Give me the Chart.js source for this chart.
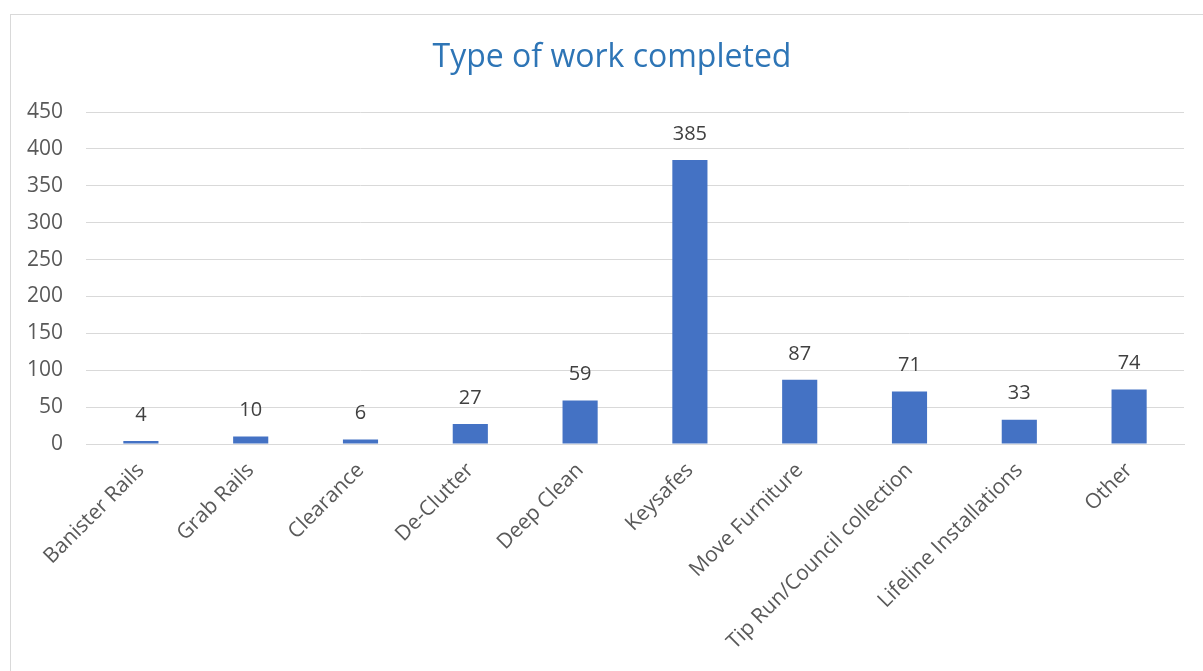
<!DOCTYPE html>
<html>
<head>
<meta charset="utf-8">
<script src="https://cdn.jsdelivr.net/npm/chart.js@4/dist/chart.umd.min.js"></script>
<style>
  html, body { margin: 0; padding: 0; background: #fff; }
  #wrap { width: 1203px; height: 671px; }
</style>
</head>
<body>
<div id="wrap"><canvas id="workChart"></canvas></div>
<script>
const categories = ['Banister Rails', 'Grab Rails', 'Clearance', 'De-Clutter', 'Deep Clean',
    'Keysafes', 'Move Furniture', 'Tip Run/Council collection', 'Lifeline Installations', 'Other'];
const jobCounts = [4, 10, 6, 27, 59, 385, 87, 71, 33, 74];
const yTicks = [0, 50, 100, 150, 200, 250, 300, 350, 400, 450];
const chartTitle = 'Type of work completed';

const fontFamily = "'Open Sans', sans-serif";

// outer frame and title, placed like the spreadsheet chart box
const frame = {
    id: 'frame',
    beforeDraw(chart) {
        const ctx = chart.ctx;
        ctx.save();
        ctx.fillStyle = '#fff';
        ctx.fillRect(0, 0, chart.width, chart.height);
        ctx.strokeStyle = '#d9d9d9';
        ctx.lineWidth = 1;
        ctx.strokeRect(10.5, 14.5, chart.width + 10, chart.height + 10);
        ctx.fillStyle = '#2e75b6';
        ctx.font = '32px ' + fontFamily;
        ctx.textAlign = 'center';
        ctx.textBaseline = 'middle';
        ctx.fillText(chartTitle, 612, 58);
        ctx.restore();
    }
};

// value labels above each bar
const valueLabels = {
    id: 'valueLabels',
    afterDatasetsDraw(chart) {
        const ctx = chart.ctx;
        const meta = chart.getDatasetMeta(0);
        ctx.save();
        ctx.fillStyle = '#404040';
        ctx.font = '20px ' + fontFamily;
        ctx.textAlign = 'center';
        ctx.textBaseline = 'middle';
        meta.data.forEach((bar, i) => {
            ctx.fillText(String(jobCounts[i]), bar.x, bar.y - 26);
        });
        ctx.restore();
    }
};

new Chart(document.getElementById('workChart'), {
    type: 'bar',
    data: {
        labels: categories,
        datasets: [{
            data: jobCounts,
            backgroundColor: '#4472c4',
            barPercentage: 0.4,
            categoryPercentage: 0.8
        }]
    },
    options: {
        responsive: true,
        maintainAspectRatio: false,
        animation: false,
        layout: { padding: { left: 20, right: 19, top: 112, bottom: 0 } },
        plugins: {
            legend: { display: false },
            tooltip: { enabled: false },
            title: { display: false }
        },
        scales: {
            x: {
                grid: { display: false },
                border: { color: '#d9d9d9' },
                ticks: {
                    color: '#595959',
                    font: { family: fontFamily, size: 21 },
                    minRotation: 45,
                    maxRotation: 45,
                    autoSkip: false,
                    padding: 6
                },
                afterFit(scale) { scale.height = 227; }
            },
            y: {
                min: 0,
                max: 450,
                afterBuildTicks(scale) { scale.ticks = yTicks.map(v => ({ value: v })); },
                grid: { color: '#d9d9d9', drawTicks: false },
                border: { display: false },
                ticks: {
                    color: '#595959',
                    font: { family: fontFamily, size: 21 },
                    padding: 23
                },
                afterFit(scale) { scale.width = 66; }
            }
        }
    },
    plugins: [frame, valueLabels]
});
</script>
</body>
</html>
